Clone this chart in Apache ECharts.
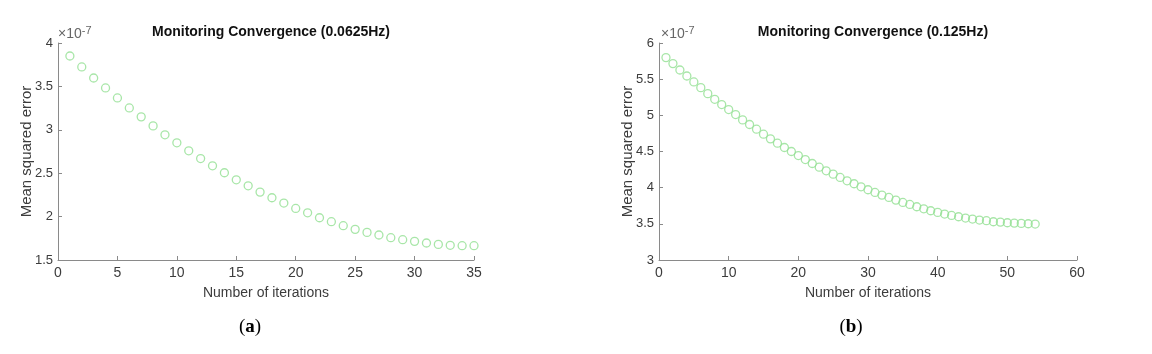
<!DOCTYPE html>
<html>
<head>
<meta charset="utf-8">
<script src="https://cdn.jsdelivr.net/npm/echarts@6/dist/echarts.min.js"></script>
<style>
html,body{margin:0;padding:0;background:#fff;}
#c{width:1152px;height:354px;}
</style>
</head>
<body>
<div id="c"></div>
<script>
// Values in units of 1e-7
const itersA = Array.from({length:35},(_,i)=>i+1);
const mseA = [3.85,3.724,3.597,3.482,3.367,3.252,3.149,3.045,2.942,2.850,
  2.758,2.669,2.585,2.505,2.424,2.355,2.282,2.217,2.156,2.094,
  2.044,1.987,1.941,1.895,1.853,1.818,1.788,1.757,1.734,1.715,
  1.696,1.680,1.669,1.665,1.665];
const itersB = Array.from({length:54},(_,i)=>i+1);
const mseB = [5.798,5.715,5.627,5.544,5.462,5.383,5.300,5.222,5.149,5.080,
  5.011,4.937,4.873,4.808,4.739,4.675,4.615,4.555,4.500,4.444,
  4.389,4.334,4.283,4.233,4.187,4.141,4.095,4.054,4.012,3.971,
  3.934,3.897,3.865,3.828,3.796,3.768,3.736,3.708,3.681,3.658,
  3.635,3.616,3.598,3.580,3.566,3.552,3.543,3.529,3.524,3.515,
  3.510,3.506,3.501,3.497];
const titleA = 'Monitoring Convergence (0.0625Hz)';
const titleB = 'Monitoring Convergence (0.125Hz)';
const xName = 'Number of iterations';
const yName = 'Mean squared error';

const FONT = '"Liberation Sans", Arial, sans-serif';
const axisCol = '#8a8a8a';
const labCol = '#3c3c3c';
const green = '#92e092';

function xAx(gi, max, interval){
  return {
    type:'value', gridIndex:gi, min:0, max:max, interval:interval,
    name:xName, nameLocation:'middle', nameGap:26,
    nameTextStyle:{color:labCol, fontSize:14, fontFamily:FONT},
    axisLine:{show:true, lineStyle:{color:axisCol, width:1}},
    axisTick:{show:true, inside:true, length:4, lineStyle:{color:axisCol}},
    axisLabel:{color:labCol, fontSize:14, fontFamily:FONT, margin:6},
    splitLine:{show:false}
  };
}
function yAx(gi, min, max){
  return {
    type:'value', gridIndex:gi, min:min, max:max, interval:0.5,
    name:yName, nameLocation:'middle', nameGap:24, nameRotate:90,
    nameMoveOverlap:false,
    nameTextStyle:{color:labCol, fontSize:15, fontFamily:FONT},
    axisLine:{show:true, lineStyle:{color:axisCol, width:1}},
    axisTick:{show:true, inside:true, length:4, lineStyle:{color:axisCol}},
    axisLabel:{color:labCol, fontSize:13, fontFamily:FONT, margin:5,
      formatter:v=>String(+v.toFixed(1))},
    splitLine:{show:false}
  };
}
const sup = {
  base:{fontSize:14, color:'#666', fontFamily:FONT, fontWeight:'normal'},
  sup:{fontSize:11, color:'#666', fontFamily:FONT, fontWeight:'normal', verticalAlign:'top', padding:[0,0,8,0]}
};
const cap = {
  p:{fontSize:19, fontFamily:'"Liberation Serif","DejaVu Serif",serif', color:'#000', fontWeight:'normal'},
  b:{fontSize:19, fontFamily:'"Liberation Serif","DejaVu Serif",serif', color:'#000', fontWeight:'bold'}
};
const chart = echarts.init(document.getElementById('c'), null, {renderer:'canvas'});
chart.setOption({
  animation:false,
  backgroundColor:'#fff',
  title:[
    {text:titleA, left:266, top:20, textAlign:'center',
      textStyle:{fontSize:14, fontWeight:'bold', color:'#111', fontFamily:FONT}},
    {text:titleB, left:868, top:20, textAlign:'center',
      textStyle:{fontSize:14, fontWeight:'bold', color:'#111', fontFamily:FONT}},
    {text:'{base|×10}{sup|-7}', left:58, top:25, padding:0, textStyle:{fontWeight:'normal', rich:sup}},
    {text:'{base|×10}{sup|-7}', left:661, top:25, padding:0, textStyle:{fontWeight:'normal', rich:sup}},
    {text:'{p|(}{b|a}{p|)}', left:250, top:318, textAlign:'center', padding:0, textStyle:{fontWeight:'normal', rich:cap}},
    {text:'{p|(}{b|b}{p|)}', left:851, top:318, textAlign:'center', padding:0, textStyle:{fontWeight:'normal', rich:cap}}
  ],
  grid:[
    {left:58, top:43, width:416, height:217},
    {left:659, top:43, width:418, height:217}
  ],
  xAxis:[xAx(0,35,5), xAx(1,60,10)],
  yAxis:[yAx(0,1.5,4), yAx(1,3,6)],
  series:[
    {type:'scatter', xAxisIndex:0, yAxisIndex:0,
      data:itersA.map((x,i)=>[x,mseA[i]]),
      symbol:'circle', symbolSize:8,
      itemStyle:{color:'transparent', borderColor:green, borderWidth:1.3}},
    {type:'scatter', xAxisIndex:1, yAxisIndex:1,
      data:itersB.map((x,i)=>[x,mseB[i]]),
      symbol:'circle', symbolSize:8,
      itemStyle:{color:'transparent', borderColor:green, borderWidth:1.3}}
  ]
});
</script>
</body>
</html>
